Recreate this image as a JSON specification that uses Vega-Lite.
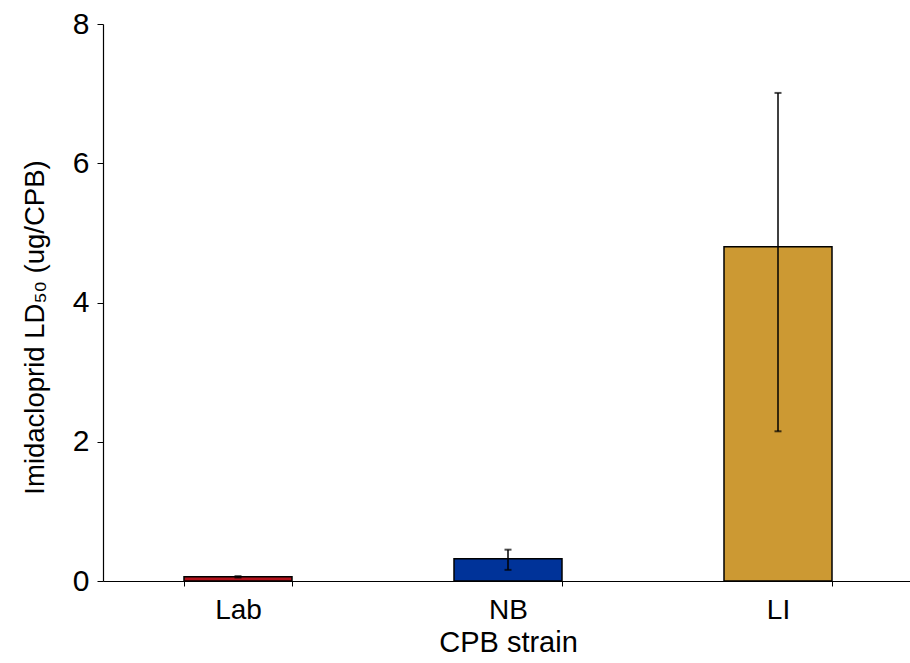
{
  "$schema": "https://vega.github.io/schema/vega-lite/v6.json",
  "autosize": "none",
  "width": 810,
  "height": 557,
  "padding": {"left": 103, "top": 24, "right": 0, "bottom": 82},
  "background": "white",
  "config": {
    "view": {"stroke": null},
    "font": "Liberation Sans",
    "axis": {"grid": false, "domainColor": "#000", "tickColor": "#000", "labelColor": "#000", "titleColor": "#000", "labelFont": "Liberation Sans", "titleFont": "Liberation Sans", "titleFontWeight": "normal"}
  },
  "data": {"values": [
    {"strain": "Lab", "ld50": 0.06, "lo": 0.05, "hi": 0.07, "color": "#b3121b"},
    {"strain": "NB", "ld50": 0.32, "lo": 0.16, "hi": 0.45, "color": "#003399"},
    {"strain": "LI", "ld50": 4.8, "lo": 2.15, "hi": 7.01, "color": "#cc9933"}
  ]},
  "encoding": {
    "x": {"field": "strain", "type": "nominal", "sort": ["Lab", "NB", "LI"],
      "scale": {"paddingInner": 0.6, "paddingOuter": 0.3},
      "axis": {"title": "CPB strain", "labelAngle": 0, "labelFontSize": 28, "titleFontSize": 29, "tickBand": "extent", "tickSize": 5, "labelPadding": 10, "titlePadding": 4, "domainWidth": 1.2}}
  },
  "layer": [
    {
      "mark": {"type": "bar", "stroke": "#000", "strokeWidth": 1.5},
      "encoding": {
        "y": {"field": "ld50", "type": "quantitative", "scale": {"domain": [0, 8]},
          "axis": {"title": "Imidacloprid LD₅₀ (ug/CPB)", "values": [0, 2, 4, 6, 8], "format": "d", "labelFontSize": 30, "titleFontSize": 27.5, "titleY": 303, "tickSize": 6, "labelPadding": 8, "titlePadding": 23, "domainWidth": 1.2}},
        "color": {"field": "color", "type": "nominal", "scale": null}
      }
    },
    {
      "mark": {"type": "rule", "color": "#000", "strokeWidth": 1.5},
      "encoding": {"y": {"field": "lo", "type": "quantitative"}, "y2": {"field": "hi"}}
    },
    {
      "mark": {"type": "tick", "color": "#000", "size": 7, "thickness": 2, "orient": "horizontal"},
      "encoding": {"y": {"field": "hi", "type": "quantitative"}}
    },
    {
      "mark": {"type": "tick", "color": "#000", "size": 7, "thickness": 2, "orient": "horizontal"},
      "encoding": {"y": {"field": "lo", "type": "quantitative"}}
    }
  ]
}
